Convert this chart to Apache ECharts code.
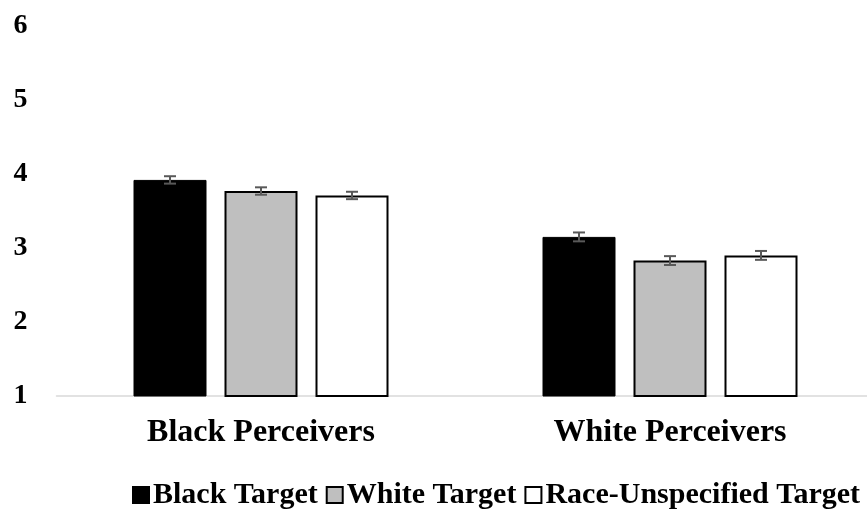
<!DOCTYPE html>
<html>
<head>
<meta charset="utf-8">
<script src="https://cdn.jsdelivr.net/npm/echarts@6/dist/echarts.min.js"></script>
<style>
  html, body { margin: 0; padding: 0; background: #fff; }
  #chart { width: 867px; height: 510px; }
</style>
</head>
<body>
<div id="chart"></div>
<script>
const categories = ['Black Perceivers', 'White Perceivers'];
const seriesNames = ['Black Target', 'White Target', 'Race-Unspecified Target'];
const blackTarget = [3.92, 3.15];
const whiteTarget = [3.77, 2.83];
const unspecTarget = [3.71, 2.90];
const blackTargetErr = [0.05, 0.06];
const whiteTargetErr = [0.05, 0.06];
const unspecTargetErr = [0.05, 0.06];

const BAR_W = 73;
const BAR_GAP = 18;
const font = "'Liberation Serif', 'Times New Roman', serif";

const chart = echarts.init(document.getElementById('chart'));

function errorSeries(values, errs, idx) {
  const data = values.map((v, i) => [i, v - errs[i], v + errs[i]]);
  return {
    type: 'custom',
    name: seriesNames[idx] + ' err',
    z: 5,
    silent: true,
    encode: { x: 0, y: [1, 2] },
    data: data,
    renderItem: (params, api) => {
      const c = api.value(0);
      const lo = api.coord([c, api.value(1)]);
      const hi = api.coord([c, api.value(2)]);
      const x = lo[0] + (idx - 1) * (BAR_W + BAR_GAP);
      const cap = 6;
      const style = { stroke: '#595959', lineWidth: 2 };
      return {
        type: 'group',
        children: [
          { type: 'line', shape: { x1: x, y1: lo[1], x2: x, y2: hi[1] }, style },
          { type: 'line', shape: { x1: x - cap, y1: lo[1], x2: x + cap, y2: lo[1] }, style },
          { type: 'line', shape: { x1: x - cap, y1: hi[1], x2: x + cap, y2: hi[1] }, style }
        ]
      };
    }
  };
}

const option = {
  animation: false,
  backgroundColor: '#fff',
  grid: {
    left: 56.5,
    width: 818,
    top: 26,
    bottom: 114,
    outerBoundsMode: 'none'
  },
  legend: {
    data: seriesNames,
    left: 127,
    top: 475,
    icon: 'rect',
    itemWidth: 16,
    itemHeight: 16,
    itemGap: 8,
    textStyle: {
      fontFamily: font,
      fontSize: 30,
      fontWeight: 'bold',
      color: '#000',
      padding: [0, 0, 0, -1]
    }
  },
  xAxis: {
    type: 'category',
    data: categories,
    axisLine: { lineStyle: { color: '#d9d9d9', width: 1.5 } },
    axisTick: { show: false },
    axisLabel: {
      margin: 21,
      fontFamily: font,
      fontSize: 32,
      fontWeight: 'bold',
      color: '#000'
    }
  },
  yAxis: {
    type: 'value',
    min: 1,
    max: 6,
    interval: 1,
    splitLine: { show: false },
    axisLine: { show: false },
    axisTick: { show: false },
    axisLabel: {
      margin: 29,
      fontFamily: font,
      fontSize: 28,
      fontWeight: 'bold',
      color: '#000'
    }
  },
  series: [
    {
      name: seriesNames[0],
      type: 'bar',
      data: blackTarget,
      barWidth: BAR_W,
      barGap: (BAR_GAP / BAR_W * 100) + '%',
      itemStyle: { color: '#000', borderColor: '#000', borderWidth: 1 }
    },
    {
      name: seriesNames[1],
      type: 'bar',
      data: whiteTarget,
      barWidth: BAR_W,
      itemStyle: { color: '#bfbfbf', borderColor: '#000', borderWidth: 2 }
    },
    {
      name: seriesNames[2],
      type: 'bar',
      data: unspecTarget,
      barWidth: BAR_W,
      itemStyle: { color: '#fff', borderColor: '#000', borderWidth: 2 }
    },
    errorSeries(blackTarget, blackTargetErr, 0),
    errorSeries(whiteTarget, whiteTargetErr, 1),
    errorSeries(unspecTarget, unspecTargetErr, 2)
  ]
};

chart.setOption(option);
</script>
</body>
</html>
